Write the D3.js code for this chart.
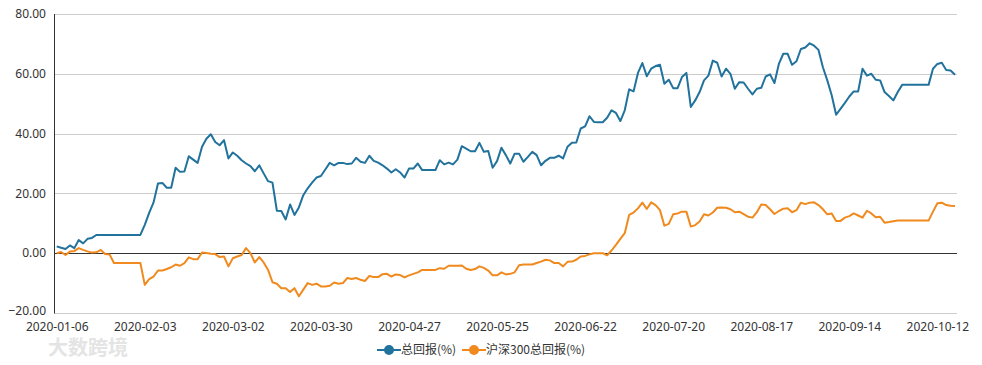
<!DOCTYPE html>
<html><head><meta charset="utf-8">
<script src="https://cdn.jsdelivr.net/npm/d3@7/dist/d3.min.js"></script>
<style>
html,body{margin:0;padding:0;background:#fff;}
svg{display:block;font-family:"Noto Sans CJK SC","Microsoft YaHei",sans-serif;}
</style></head><body>
<svg id="chart" width="982" height="365"></svg>
<script>
// ---- data ----
const startDate = "2020-01-06";   // first weekday in series
const pointCount = 205;            // weekdays through 2020-10-16
const seriesNames = ["总回报(%)", "沪深300总回报(%)"];
const fundReturn = [
2.3,1.8,1.4,2.6,1.7,4.4,3.3,4.8,5.1,6.1,
6.1,6.1,6.1,6.1,6.1,6.1,6.1,6.1,6.1,6.1,
9.5,13.5,17.0,23.3,23.5,21.9,21.9,28.6,27.2,27.3,
32.4,31.3,30.2,35.6,38.3,39.8,37.2,36.1,37.8,31.7,
33.7,32.6,31.1,30.0,29.1,27.4,29.4,26.7,24.1,23.6,
14.2,14.1,11.3,16.3,12.8,15.3,19.4,21.7,23.6,25.3,
25.8,28.0,30.2,29.4,30.2,30.2,29.8,30.0,31.9,30.6,
30.2,32.6,30.9,30.3,29.4,28.3,27.0,28.1,27.0,25.3,
28.3,28.3,30.0,27.8,27.8,27.8,27.8,31.1,29.7,30.3,
29.7,31.3,35.8,35.0,34.1,34.1,36.9,33.9,34.2,28.6,
30.8,35.3,32.8,30.0,33.3,33.3,30.6,32.2,33.9,32.8,
29.4,30.9,31.9,31.9,32.6,31.7,35.6,36.9,37.0,41.7,
42.4,45.8,43.9,43.8,43.8,45.3,47.8,46.9,44.2,47.8,
54.8,54.1,60.3,63.6,59.2,61.7,62.6,63.0,56.7,58.0,
55.2,55.2,58.9,60.3,48.9,51.1,53.9,57.8,59.4,64.4,
63.7,59.1,61.7,60.0,55.0,57.2,57.1,55.0,53.1,55.0,
55.3,59.1,59.8,56.9,63.3,66.7,66.7,63.0,64.2,68.3,
68.8,70.2,69.4,68.0,62.2,57.8,52.8,46.3,48.3,50.3,
52.4,54.1,54.1,61.7,59.4,60.0,58.0,57.8,53.9,52.6,
51.1,53.9,56.3,56.3,56.3,56.3,56.3,56.3,56.3,61.7,
63.3,63.7,61.3,61.1,59.7
];
const hs300Return = [
0.0,0.4,-0.6,0.6,0.7,1.7,1.1,0.6,0.2,0.3,
1.1,-0.3,-0.4,-3.3,-3.3,-3.3,-3.3,-3.3,-3.3,-3.3,
-10.6,-8.7,-7.8,-5.8,-5.8,-5.3,-4.7,-3.8,-4.2,-3.3,
-1.4,-2.0,-2.0,0.2,0.1,-0.2,-0.3,-1.3,-1.1,-4.4,
-1.7,-1.1,-0.6,1.7,0.0,-3.1,-1.3,-3.1,-5.6,-9.7,
-10.2,-11.7,-11.7,-13.0,-11.7,-14.4,-12.2,-10.0,-10.6,-10.2,
-11.1,-11.1,-10.9,-9.8,-10.2,-10.0,-8.3,-8.6,-8.3,-8.9,
-9.3,-7.6,-8.0,-8.0,-7.0,-6.9,-7.8,-7.1,-7.3,-8.1,
-7.4,-6.9,-6.4,-5.6,-5.6,-5.6,-5.6,-5.0,-5.2,-4.2,
-4.2,-4.2,-4.1,-5.2,-5.6,-5.3,-4.4,-4.9,-5.8,-7.4,
-7.4,-6.4,-7.1,-6.9,-6.4,-4.0,-3.8,-3.8,-3.8,-3.3,
-2.8,-2.2,-2.4,-3.3,-3.3,-4.4,-2.9,-2.8,-2.2,-1.1,
-0.9,-0.4,0.0,0.0,0.0,-0.7,0.9,2.8,4.8,6.7,
12.8,13.6,15.0,16.9,14.8,17.0,16.1,14.4,9.2,9.8,
13.0,13.3,13.9,13.9,8.9,9.4,10.6,13.0,12.6,13.6,
15.2,15.3,15.2,14.7,13.7,13.9,13.1,12.2,11.9,13.7,
16.3,16.1,14.7,13.1,14.1,14.9,15.0,13.7,14.4,16.9,
16.4,16.9,17.0,16.1,14.7,13.0,13.3,10.8,10.8,11.9,
12.4,13.3,12.6,11.9,14.2,13.3,12.0,12.2,10.2,10.4,
10.7,10.9,10.9,10.9,10.9,10.9,10.9,10.9,10.9,13.9,
16.7,16.9,16.1,15.9,15.8
];
const xTickLabels = ["2020-01-06","2020-02-03","2020-03-02","2020-03-30","2020-04-27","2020-05-25","2020-06-22","2020-07-20","2020-08-17","2020-09-14","2020-10-12"];
const yTicks = [-20, 0, 20, 40, 60, 80];
const colors = ["#21729c", "#f08a1e"];

// categories: consecutive weekdays
const fmt = d3.timeFormat("%Y-%m-%d");
const dates = [];
{ let d = d3.timeParse("%Y-%m-%d")(startDate);
  while (dates.length < pointCount) { const wd = d.getDay(); if (wd !== 0 && wd !== 6) dates.push(fmt(d)); d = d3.timeDay.offset(d, 1); } }

// ---- layout ----
const svg = d3.select("#chart");
const plotLeft = 54, plotRight = 957, plotTop = 14, plotBottom = 313;
const x = d3.scalePoint().domain(dates).range([56.7, 955]);
const y = d3.scaleLinear().domain([-20, 80]).range([plotBottom, plotTop]);
const numFont = "'Noto Sans','Microsoft YaHei',sans-serif";

// gridlines
svg.append("g").selectAll("line").data(yTicks.filter(v => v !== 0)).join("line")
  .attr("x1", plotLeft).attr("x2", plotRight)
  .attr("y1", d => Math.round(y(d)) + 0.5).attr("y2", d => Math.round(y(d)) + 0.5)
  .attr("stroke", "#cccccc").attr("stroke-width", 1);

// y axis labels
const yAxis = d3.axisLeft(y).tickValues(yTicks).tickSize(0).tickPadding(8).tickFormat(d3.format(".2f"));
const gy = svg.append("g").attr("transform", `translate(${plotLeft},0)`).call(yAxis);
gy.select(".domain").remove();
gy.selectAll("text").attr("fill", "#333").attr("dy", "0.3em")
  .attr("y", d => d === -20 ? -2 : 0)
  .style("font-size", "12px").style("font-family", numFont);

// x axis labels
const xAxis = d3.axisBottom(x).tickValues(xTickLabels).tickSize(0).tickPadding(9);
const gx = svg.append("g").attr("transform", `translate(0,${plotBottom})`).call(xAxis);
gx.select(".domain").remove();
gx.selectAll("text").attr("fill", "#333").style("font-size", "12px").style("font-family", numFont);

// zero line and left axis line
svg.append("line").attr("x1", plotLeft).attr("x2", plotRight)
  .attr("y1", Math.round(y(0)) + 0.5).attr("y2", Math.round(y(0)) + 0.5)
  .attr("stroke", "#333").attr("stroke-width", 1);
svg.append("line").attr("x1", plotLeft + 0.5).attr("x2", plotLeft + 0.5)
  .attr("y1", plotTop).attr("y2", plotBottom + 0.5)
  .attr("stroke", "#333").attr("stroke-width", 1);

// lines
const series = [fundReturn, hs300Return];
const line = d3.line().x((d, i) => x(dates[i])).y(d => y(d));
series.forEach((s, k) => {
  svg.append("path").datum(s).attr("d", line)
    .attr("fill", "none").attr("stroke", colors[k]).attr("stroke-width", 2)
    .attr("stroke-linejoin", "round");
});

// legend
const legendY = 350;
const legendItems = [{x: 384, name: seriesNames[0], c: colors[0]}, {x: 469, name: seriesNames[1], c: colors[1]}];
const lg = svg.append("g");
legendItems.forEach(it => {
  const g = lg.append("g").attr("transform", `translate(${it.x},${legendY})`);
  g.append("line").attr("x1", -7).attr("x2", 17).attr("y1", 0).attr("y2", 0).attr("stroke", it.c).attr("stroke-width", 2);
  g.append("circle").attr("cx", 5).attr("cy", 0).attr("r", 5).attr("fill", it.c);
  g.append("text").attr("x", 17).attr("y", 0).attr("dy", "0.35em").attr("fill", "#333")
    .style("font-size", "12px").text(it.name);
});

// watermark
svg.append("text").attr("x", 48).attr("y", 355).attr("fill", "#e4e4e4")
  .style("font-size", "20px").style("font-weight", "bold").text("大数跨境");
</script>
</body></html>
